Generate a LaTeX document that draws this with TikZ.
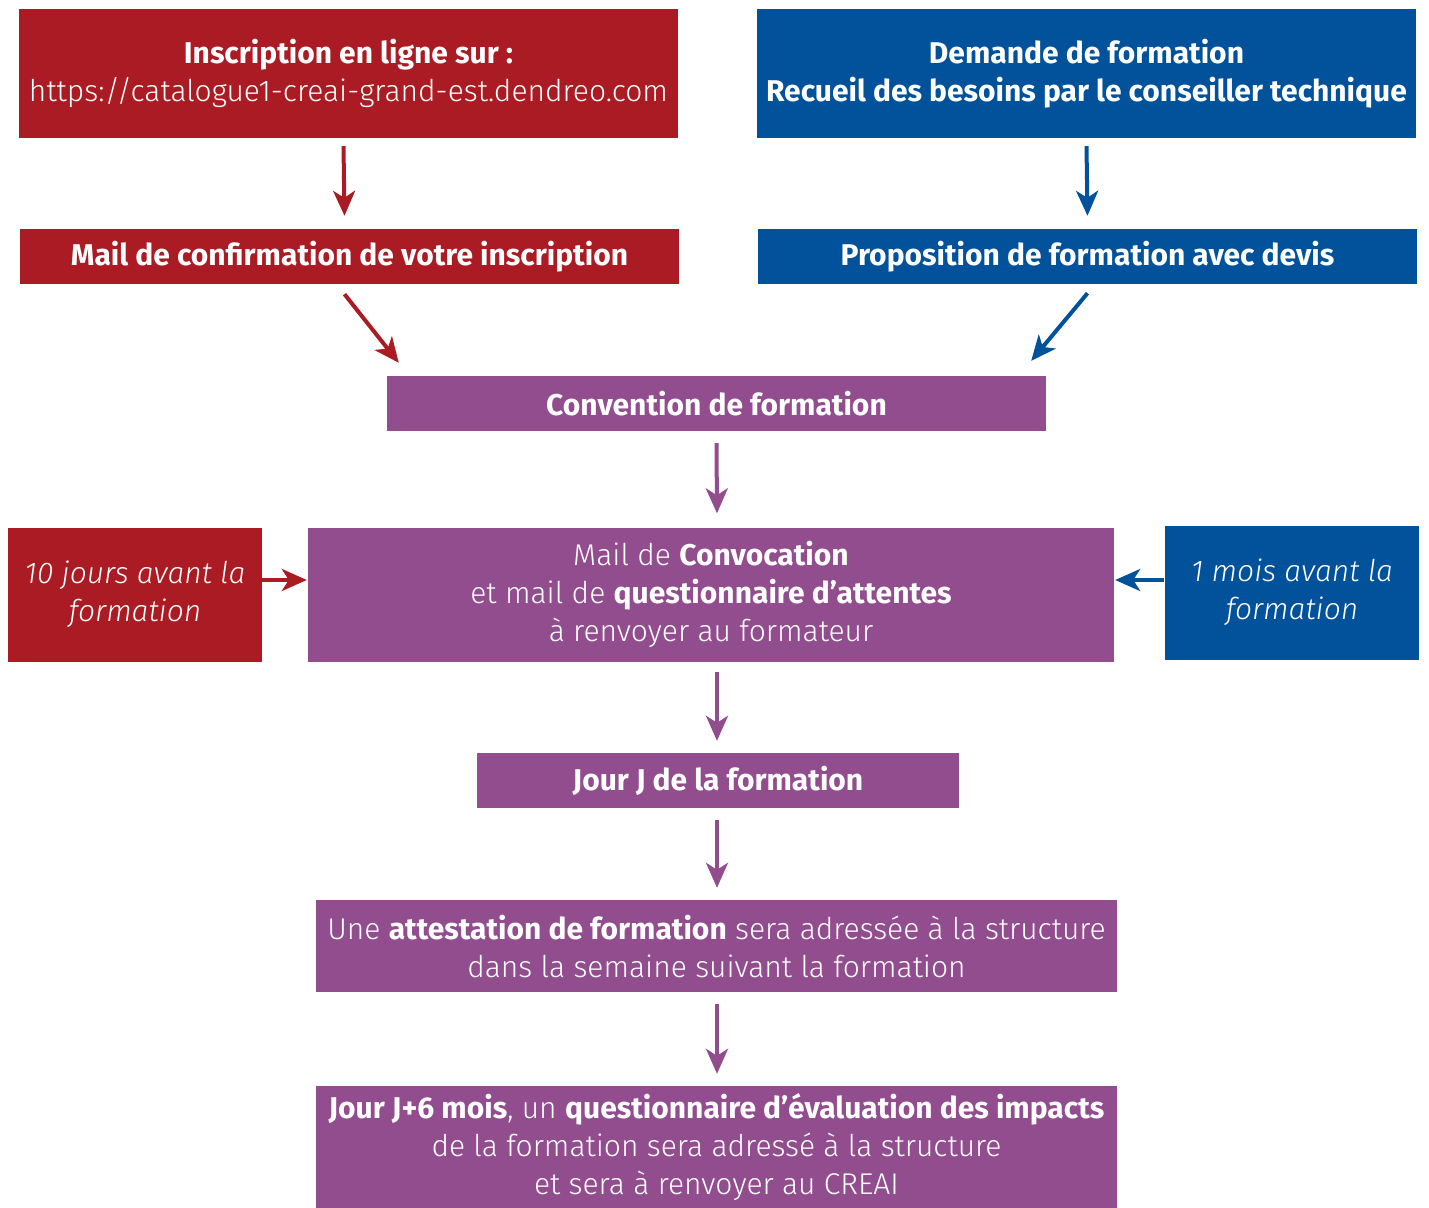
\documentclass[tikz,border=0pt]{standalone}
\usepackage{fontspec}
\setmainfont{Fira Sans}[UprightFont=* Light, ItalicFont=* Light Italic, BoldFont=* Bold, BoldItalicFont=* Bold Italic]
\usetikzlibrary{arrows.meta,calc}
\definecolor{cred}{RGB}{171,27,35}
\definecolor{cblue}{RGB}{1,82,155}
\definecolor{cpurple}{RGB}{146,77,142}
\begin{document}
\begin{tikzpicture}[x=1pt,y=-1pt,
  box/.style={fill=#1, text=white, inner sep=0pt, align=center, font=\fontsize{30}{38}\selectfont},
  arr/.style={draw=#1, line width=4pt, -{Stealth[length=25pt,width=22pt,inset=7pt]}}]
\useasboundingbox (0,0) rectangle (1429,1207);
\node[box=cred, minimum width=659pt, minimum height=128pt] (A) at (348.5,73.5)
  {\textbf{Inscription en ligne sur :}\\https://catalogue1-creai-grand-est.dendreo.com};
\node[box=cblue, minimum width=659pt, minimum height=128pt] (B) at (1086.5,73.5)
  {\textbf{Demande de formation}\\\textbf{Recueil des besoins par le conseiller technique}};
\node[box=cred, minimum width=659pt, minimum height=55pt] (C) at (349.5,256.5)
  {\textbf{Mail de confirmation de votre inscription}};
\node[box=cblue, minimum width=659pt, minimum height=55pt] (D) at (1087.5,256.5)
  {\textbf{Proposition de formation avec devis}};
\node[box=cpurple, minimum width=659pt, minimum height=55pt] (E) at (716.5,403.5)
  {\textbf{Convention de formation}};
\node[box=cpurple, minimum width=806pt, minimum height=134pt] (F) at (711,594.5)
  {Mail de \textbf{Convocation}\\et mail de \textbf{questionnaire d’attentes}\\à renvoyer au formateur};
\node[box=cred, minimum width=254pt, minimum height=134pt] (G) at (135,594.5)
  {\itshape 10 jours avant la\\\itshape formation};
\node[box=cblue, minimum width=254pt, minimum height=134pt] (H) at (1292,592.5)
  {\itshape 1 mois avant la\\\itshape formation};
\node[box=cpurple, minimum width=482pt, minimum height=55pt] (I) at (718,780.5)
  {\textbf{Jour J de la formation}};
\node[box=cpurple, minimum width=801pt, minimum height=92pt] (J) at (716.5,946)
  {Une \textbf{attestation de formation} sera adressée à la structure\\dans la semaine suivant la formation};
\node[box=cpurple, minimum width=801pt, minimum height=123pt] (K) at (716.5,1147.5)
  {\textbf{Jour J+6 mois}, un \textbf{questionnaire d’évaluation des impacts}\\de la formation sera adressé à la structure\\et sera à renvoyer au CREAI};
\draw[arr=cred] ($(A.south)+(-5,8.5)$) -- ($(C.north)+(-5,-13)$);
\draw[arr=cblue] ($(B.south)+(0,8.5)$) -- ($(D.north)+(0,-13)$);
\draw[arr=cred] ($(C.south)+(-5,10)$) -- ($(E.north west)+(12,-13)$);
\draw[arr=cblue] ($(D.south)+(0,9)$) -- ($(E.north east)+(-15,-15)$);
\draw[arr=cpurple] ($(E.south)+(0,12)$) -- ($(F.north)+(6,-14)$);
\draw[arr=cpurple] ($(F.south)+(6,10)$) -- ($(I.north)+(-1,-12)$);
\draw[arr=cpurple] ($(I.south)+(-1,12)$) -- ($(J.north)+(0.5,-12)$);
\draw[arr=cpurple] ($(J.south)+(0.5,12)$) -- ($(K.north)+(0.5,-12)$);
\draw[arr=cred] ($(G.east)+(0,-14.5)$) -- ($(F.west)+(-1,-14.5)$);
\draw[arr=cblue] ($(H.west)+(-1,-12.5)$) -- ($(F.east)+(1,-14.5)$);
\end{tikzpicture}
\end{document}
